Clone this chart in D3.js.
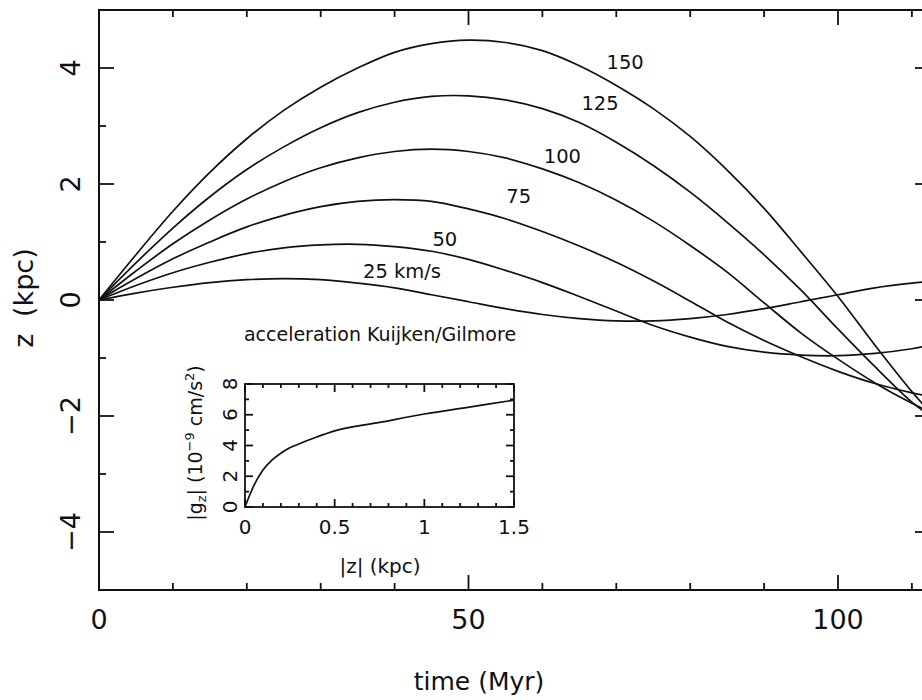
<!DOCTYPE html>
<html>
<head>
<meta charset="utf-8">
<script src="https://cdn.jsdelivr.net/npm/d3@7"></script>
<style>
  body { margin: 0; background: #fff; }
  svg { display: block; }
  text { font-family: "DejaVu Sans", sans-serif; fill: #111; }
</style>
</head>
<body>
<svg id="chart"></svg>
<script>
// time grid (Myr) shared by all orbits
const times = [0, 5, 10, 15, 20, 25, 30, 35, 40, 45, 50, 55, 60, 65, 70, 75, 80, 85, 90, 95, 100, 105, 110, 112.5]

// z (kpc), one array per launch velocity
const z25 = [0, 0.12, 0.22, 0.3, 0.35, 0.37, 0.35, 0.29, 0.21, 0.09, -0.03, -0.15, -0.25, -0.32, -0.36, -0.36, -0.32, -0.25, -0.15, -0.03, 0.09, 0.21, 0.29, 0.32]
const z50 = [0, 0.25, 0.47, 0.65, 0.8, 0.9, 0.95, 0.96, 0.92, 0.84, 0.7, 0.51, 0.3, 0.06, -0.19, -0.44, -0.64, -0.8, -0.9, -0.95, -0.96, -0.92, -0.84, -0.78]
const z75 = [0, 0.37, 0.71, 1.0, 1.26, 1.46, 1.61, 1.7, 1.73, 1.7, 1.57, 1.4, 1.18, 0.93, 0.65, 0.33, -0.02, -0.38, -0.7, -0.98, -1.23, -1.44, -1.6, -1.66]
const z100 = [0, 0.5, 0.97, 1.38, 1.74, 2.04, 2.28, 2.45, 2.56, 2.6, 2.56, 2.45, 2.26, 2.02, 1.72, 1.36, 0.94, 0.48, -0.05, -0.57, -1.02, -1.43, -1.78, -1.93]
const z125 = [0, 0.64, 1.24, 1.78, 2.25, 2.64, 2.97, 3.23, 3.41, 3.51, 3.52, 3.45, 3.3, 3.06, 2.72, 2.32, 1.86, 1.34, 0.78, 0.17, -0.5, -1.15, -1.76, -2.0]
const z150 = [0, 0.78, 1.53, 2.2, 2.78, 3.27, 3.67, 4.0, 4.27, 4.42, 4.48, 4.44, 4.3, 4.04, 3.7, 3.3, 2.82, 2.24, 1.58, 0.83, 0.06, -0.78, -1.58, -1.94]

const orbitLabels = ['25 km/s', '50', '75', '100', '125', '150']

// inset: vertical acceleration vs height
const insetZ = [0, 0.05, 0.1, 0.15, 0.2, 0.25, 0.3, 0.4, 0.5, 0.75, 1.0, 1.25, 1.5]
const insetG = [0, 1.4, 2.4, 3.05, 3.5, 3.85, 4.1, 4.55, 4.95, 5.5, 6.05, 6.5, 6.95]

const xMajor = [0, 50, 100]
const yMajor = [-4, -2, 0, 2, 4]
const insetXMajor = [0, 0.5, 1, 1.5]
const insetYMajor = [0, 2, 4, 6, 8]

const width = 922
const height = 700

const svg = d3.select('#chart').attr('width', width).attr('height', height)

const x = d3.scaleLinear().domain([0, 112.45]).range([99, 930])
const y = d3.scaleLinear().domain([-5, 5]).range([590, 10])

svg.append('clipPath').attr('id', 'frameClip')
    .append('rect')
    .attr('x', x(0)).attr('y', y(5))
    .attr('width', x(112.45) - x(0)).attr('height', y(-5) - y(5))

// frame
svg.append('rect')
    .attr('x', x(0)).attr('y', y(5))
    .attr('width', x(112.45) - x(0)).attr('height', y(-5) - y(5))
    .attr('fill', 'none').attr('stroke', '#111').attr('stroke-width', 2)

// inward ticks on all four sides
function ticks(g, values, scale, orient, len, pos) {
    g.selectAll(null).data(values).enter().append('line')
        .attr('x1', d => orient === 'h' ? scale(d) : pos)
        .attr('x2', d => orient === 'h' ? scale(d) : pos + len)
        .attr('y1', d => orient === 'h' ? pos : scale(d))
        .attr('y2', d => orient === 'h' ? pos + len : scale(d))
        .attr('stroke', '#111').attr('stroke-width', 1.8)
}

const tg = svg.append('g')
const xMinor = d3.range(0, 113, 10).filter(d => xMajor.indexOf(d) < 0)
const yMinor = d3.range(-5, 6, 1).filter(d => yMajor.indexOf(d) < 0)
ticks(tg, xMinor, x, 'h', -7, y(-5))
ticks(tg, xMajor, x, 'h', -15, y(-5))
ticks(tg, xMinor, x, 'h', 7, y(5))
ticks(tg, xMajor, x, 'h', 15, y(5))
ticks(tg, yMinor, y, 'v', 7, x(0))
ticks(tg, yMajor, y, 'v', 15, x(0))
ticks(tg, yMinor, y, 'v', -7, x(112.45))
ticks(tg, yMajor, y, 'v', -15, x(112.45))

// tick labels
svg.selectAll(null).data(xMajor).enter().append('text')
    .attr('x', d => x(d)).attr('y', 629)
    .attr('text-anchor', 'middle').attr('font-size', 27)
    .text(d => d)

svg.selectAll(null).data(yMajor).enter().append('text')
    .attr('transform', d => `translate(80,${y(d)}) rotate(-90)`)
    .attr('text-anchor', 'middle').attr('font-size', 27)
    .text(d => d < 0 ? '\u2212' + Math.abs(d) : d)

svg.append('text')
    .attr('x', 479).attr('y', 690)
    .attr('text-anchor', 'middle').attr('font-size', 25)
    .text('time (Myr)')

svg.append('text')
    .attr('transform', 'translate(33,298) rotate(-90)')
    .attr('text-anchor', 'middle').attr('font-size', 27)
    .attr('word-spacing', 8)
    .text('z (kpc)')

// orbits
const orbits = [z25, z50, z75, z100, z125, z150]
const line = d3.line()
    .x((d, i) => x(times[i]))
    .y(d => y(d))
    .curve(d3.curveCatmullRom.alpha(0.5))

svg.append('g').attr('clip-path', 'url(#frameClip)')
    .selectAll('path').data(orbits).enter().append('path')
    .attr('d', line)
    .attr('fill', 'none').attr('stroke', '#111').attr('stroke-width', 1.7)

// curve labels, anchored in data coordinates
const labelAnchors = [
    { t: 41.0, z: 0.38 },
    { t: 46.8, z: 0.93 },
    { t: 56.8, z: 1.68 },
    { t: 62.7, z: 2.37 },
    { t: 67.8, z: 3.28 },
    { t: 71.2, z: 3.99 },
]
svg.selectAll(null).data(orbitLabels).enter().append('text')
    .attr('x', (d, i) => x(labelAnchors[i].t))
    .attr('y', (d, i) => y(labelAnchors[i].z))
    .attr('text-anchor', 'middle').attr('font-size', 19.5)
    .text(d => d)

// ---- inset ----
const ix = d3.scaleLinear().domain([0, 1.5]).range([245, 514])
const iy = d3.scaleLinear().domain([0, 8]).range([507, 384])

svg.append('rect')
    .attr('x', ix(0)).attr('y', iy(8))
    .attr('width', ix(1.5) - ix(0)).attr('height', iy(0) - iy(8))
    .attr('fill', '#fff').attr('stroke', '#111').attr('stroke-width', 1.8)

const ig = svg.append('g')
const ixMinor = d3.range(0, 16, 1).map(d => d / 10).filter(d => insetXMajor.indexOf(d) < 0)
const iyMinor = [1, 3, 5, 7]
ticks(ig, ixMinor, ix, 'h', -4, iy(0))
ticks(ig, insetXMajor, ix, 'h', -8, iy(0))
ticks(ig, ixMinor, ix, 'h', 4, iy(8))
ticks(ig, insetXMajor, ix, 'h', 8, iy(8))
ticks(ig, iyMinor, iy, 'v', 4, ix(0))
ticks(ig, insetYMajor, iy, 'v', 8, ix(0))
ticks(ig, iyMinor, iy, 'v', -4, ix(1.5))
ticks(ig, insetYMajor, iy, 'v', -8, ix(1.5))

svg.append('path')
    .datum(insetG)
    .attr('d', d3.line().x((d, i) => ix(insetZ[i])).y(d => iy(d)).curve(d3.curveMonotoneX))
    .attr('fill', 'none').attr('stroke', '#111').attr('stroke-width', 1.7)

svg.selectAll(null).data(insetXMajor).enter().append('text')
    .attr('x', d => ix(d)).attr('y', 534)
    .attr('text-anchor', 'middle').attr('font-size', 20)
    .text(d => d)

svg.selectAll(null).data(insetYMajor).enter().append('text')
    .attr('transform', d => `translate(237,${iy(d)}) rotate(-90)`)
    .attr('text-anchor', 'middle').attr('font-size', 20)
    .text(d => d)

svg.append('text')
    .attr('x', 380).attr('y', 341)
    .attr('text-anchor', 'middle').attr('font-size', 19)
    .text('acceleration Kuijken/Gilmore')

svg.append('text')
    .attr('x', 380).attr('y', 573)
    .attr('text-anchor', 'middle').attr('font-size', 20)
    .text('|z| (kpc)')

const yl = svg.append('text')
    .attr('transform', 'translate(202,443) rotate(-90)')
    .attr('text-anchor', 'middle').attr('font-size', 19)
yl.append('tspan').text('|g')
yl.append('tspan').attr('font-size', 13).attr('dy', 4).text('z')
yl.append('tspan').attr('dy', -4).text('| (10')
yl.append('tspan').attr('font-size', 13).attr('dy', -8).text('\u22129')
yl.append('tspan').attr('dy', 8).text(' cm/s')
yl.append('tspan').attr('font-size', 13).attr('dy', -8).text('2')
yl.append('tspan').attr('dy', 8).text(')')
</script>
</body>
</html>
